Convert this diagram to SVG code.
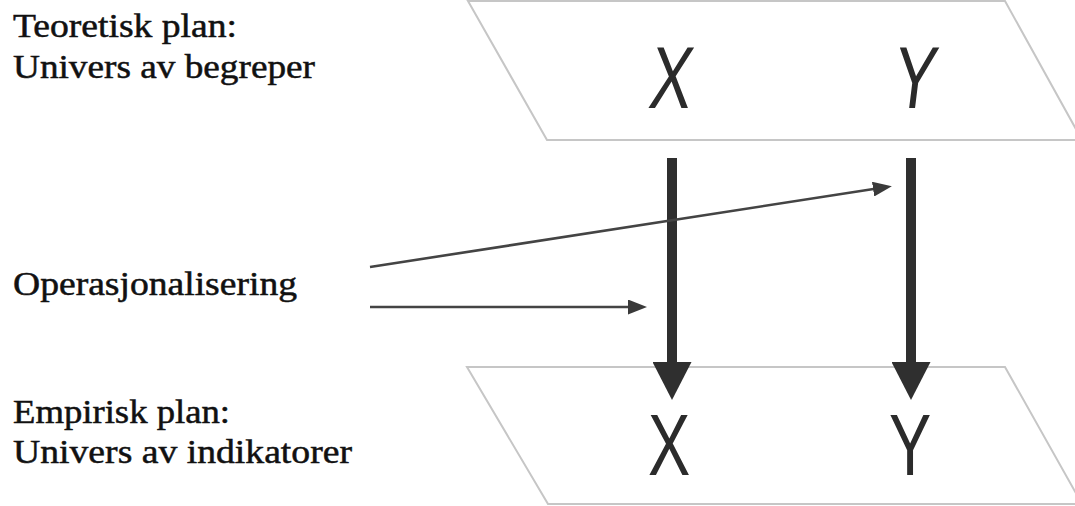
<svg xmlns="http://www.w3.org/2000/svg" width="1075" height="506" viewBox="0 0 1075 506">
  <style>
    .plane { fill: #ffffff; stroke: #c6c6c6; stroke-width: 2; }
    .lbl { font-family: "Liberation Serif", "DejaVu Serif", serif; font-size: 33px; fill: #111111; stroke: #111111; stroke-width: 0.5; }
    .var { font-family: "Liberation Sans", Arial, sans-serif; font-size: 88px; fill: #2b2b2b; text-anchor: middle; }
    .thin { stroke: #444444; stroke-width: 2.6; fill: none; }
    .thick { stroke: #2f2f2f; stroke-width: 10; fill: none; }
  </style>
  <defs>
    <marker id="thinHead" viewBox="0 0 19 15" markerWidth="19" markerHeight="15" refX="7" refY="7.5" orient="auto" markerUnits="userSpaceOnUse">
      <path d="M0,0 L19,7.5 L0,15 z" fill="#3a3a3a"/>
    </marker>
    <marker id="thickHead" viewBox="0 0 38 39" markerWidth="38" markerHeight="39" refX="10" refY="19.5" orient="auto" markerUnits="userSpaceOnUse">
      <path d="M0,0 L38,19.5 L0,39 z" fill="#2f2f2f"/>
    </marker>
  </defs>

  <rect width="1075" height="506" fill="#ffffff"/>

  <g id="theory-plane">
    <polygon class="plane" points="468,1 1005,1 1082,140 547,140"/>
    <text class="var" transform="translate(668,108) skewX(-7) scale(0.72,1)">X</text>
    <text class="var" transform="translate(912,108) skewX(-7) scale(0.72,1)">Y</text>
  </g>

  <g id="empirical-plane">
    <polygon class="plane" points="467,367 1005,367 1082,504 548,504"/>
  </g>

  <g id="connectors">
    <line class="thick" x1="672" y1="158" x2="672" y2="372" marker-end="url(#thickHead)"/>
    <line class="thick" x1="911" y1="158" x2="911" y2="372" marker-end="url(#thickHead)"/>
    <line class="thin" x1="370" y1="307" x2="635" y2="307" marker-end="url(#thinHead)"/>
    <line class="thin" x1="370" y1="267" x2="880" y2="188" marker-end="url(#thinHead)"/>
  </g>

  <g id="empirical-vars">
    <text class="var" transform="translate(669,475) scale(0.72,1)">X</text>
    <text class="var" transform="translate(910,475) scale(0.72,1)">Y</text>
  </g>

  <g id="label-theory">
    <text class="lbl" x="13" y="37" textLength="224" lengthAdjust="spacingAndGlyphs">Teoretisk plan:</text>
    <text class="lbl" x="13" y="78" textLength="302" lengthAdjust="spacingAndGlyphs">Univers av begreper</text>
  </g>

  <g id="label-operasjonalisering">
    <text class="lbl" x="13" y="295" textLength="284" lengthAdjust="spacingAndGlyphs">Operasjonalisering</text>
  </g>

  <g id="label-empirical">
    <text class="lbl" x="13" y="423" textLength="217" lengthAdjust="spacingAndGlyphs">Empirisk plan:</text>
    <text class="lbl" x="13" y="463" textLength="339" lengthAdjust="spacingAndGlyphs">Univers av indikatorer</text>
  </g>
</svg>
